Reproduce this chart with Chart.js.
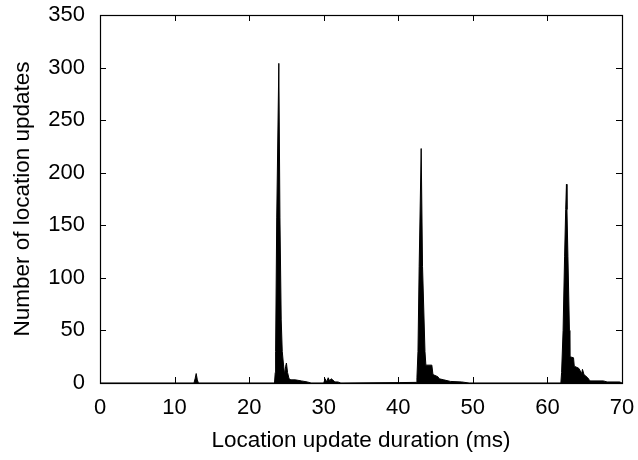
<!DOCTYPE html>
<html>
<head>
<meta charset="utf-8">
<script src="https://cdn.jsdelivr.net/npm/chart.js@4/dist/chart.umd.min.js"></script>
<style>
	html, body { margin: 0; padding: 0; background: #fff; }
	#wrap { width: 638px; height: 460px; }
</style>
</head>
<body>
<div id="wrap"><canvas id="myChart" width="638" height="460"></canvas></div>
<script>
// histogram outline: duration (ms) -> number of updates
const durations = [
	0, 12.6, 12.75, 12.9, 13.05, 13.2,
	23.4, 23.5, 23.55, 23.7, 23.98, 24.13, 24.3, 24.44, 24.6, 24.75, 24.9, 25.0, 25.15, 25.35, 25.6, 26.2, 27.0, 27.8, 28.3,
	30.0, 30.2, 30.4, 30.6, 30.8, 31.0, 31.2, 31.5, 31.9, 32.3,
	40.2, 42.4, 42.5, 42.64, 42.8, 43.07, 43.25, 43.58, 43.7, 44.5, 44.65, 45.3, 45.5, 46.1, 47.0, 48.5, 49.5,
	61.8, 61.9, 62.1, 62.3, 62.45, 62.55, 62.62, 62.75, 62.95, 63.0, 63.5, 63.6, 64.2, 64.6, 64.7, 64.9, 65.4, 65.7, 67.5, 68.0, 69.7, 70
];
const counts = [
	0, 0, 4, 9, 3, 0,
	0, 10, 30, 157, 304, 157, 60, 30, 18, 8, 16, 19, 10, 4, 3, 3, 2, 1, 0,
	0, 4, 1, 5, 2, 4, 3, 1, 1, 0,
	0.4, 0.6, 5, 30, 111, 223, 111, 30, 17, 17, 8, 6, 4, 3, 1.5, 1, 0,
	0, 10, 50, 120, 165, 189, 165, 120, 50, 25, 24, 16, 14, 9, 13, 8, 5, 2, 2, 1, 1, 0
];
const xTicks = [0, 10, 20, 30, 40, 50, 60, 70];
const yTicks = [0, 50, 100, 150, 200, 250, 300, 350];

const fontFamily = '"Liberation Sans", Arial, Helvetica, sans-serif';

// gnuplot-like frame with inward ticks on all four sides
const framePlugin = {
	id: 'frame',
	afterDraw(chart) {
		const ctx = chart.ctx;
		const a = chart.chartArea;
		const xs = chart.scales.x;
		const ys = chart.scales.y;
		const len = 6;
		ctx.save();
		ctx.strokeStyle = '#000';
		ctx.lineWidth = 1;
		ctx.beginPath();
		xs.ticks.forEach(t => {
			const px = Math.round(xs.getPixelForValue(t.value)) + 0.5;
			ctx.moveTo(px, a.bottom);
			ctx.lineTo(px, a.bottom - len);
			ctx.moveTo(px, a.top);
			ctx.lineTo(px, a.top + len);
		});
		ys.ticks.forEach(t => {
			const py = Math.round(ys.getPixelForValue(t.value)) + 0.5;
			ctx.moveTo(a.left, py);
			ctx.lineTo(a.left + len, py);
			ctx.moveTo(a.right, py);
			ctx.lineTo(a.right - len, py);
		});
		ctx.stroke();
		ctx.lineWidth = 1.2;
		ctx.strokeRect(Math.round(a.left) + 0.5, Math.round(a.top) + 0.5, Math.round(a.right - a.left), Math.round(a.bottom - a.top));
		ctx.restore();
	}
};

// let the layout padding alone decide where the plot box sits
function noOverflow(scale) {
	scale.paddingTop = 0;
	scale.paddingBottom = 0;
	scale.paddingLeft = 0;
	scale.paddingRight = 0;
}

function drawChart() {
	const ctx = document.getElementById('myChart');
	const points = durations.map((d, i) => ({ x: d, y: counts[i] }));

	new Chart(ctx, {
		type: 'line',
		data: {
			datasets: [
				{
					data: points,
					borderColor: '#000',
					backgroundColor: '#000',
					borderWidth: 1,
					pointRadius: 0,
					tension: 0,
					fill: 'origin'
				}
			]
		},
		plugins: [framePlugin],
		options: {
			responsive: false,
			animation: false,
			layout: { padding: { left: 0, right: 16, top: 15, bottom: 0 } },
			plugins: { legend: { display: false }, tooltip: { enabled: false } },
			scales: {
				x: {
					type: 'linear',
					min: 0,
					max: 70,
					afterBuildTicks: scale => {
						scale.ticks = xTicks.map(v => ({ value: v }));
					},
					afterFit: scale => {
						scale.height = 77;
						noOverflow(scale);
					},
					grid: { display: false, drawTicks: false },
					border: { display: false },
					ticks: { color: '#000', padding: 12, font: { family: fontFamily, size: 22 } },
					title: {
						display: true,
						text: 'Location update duration (ms)',
						color: '#000',
						font: { family: fontFamily, size: 22.5 },
						padding: { top: 4, bottom: 6 }
					}
				},
				y: {
					min: 0,
					max: 350,
					afterBuildTicks: scale => {
						scale.ticks = yTicks.map(v => ({ value: v }));
					},
					afterFit: scale => {
						scale.width = 100;
						noOverflow(scale);
					},
					grid: { display: false, drawTicks: false },
					border: { display: false },
					ticks: { color: '#000', padding: 15, font: { family: fontFamily, size: 22 } },
					title: {
						display: true,
						text: 'Number of location updates',
						color: '#000',
						font: { family: fontFamily, size: 22.5 },
						padding: { top: 9, bottom: 4 }
					}
				}
			}
		}
	});
}
drawChart();
</script>
</body>
</html>
